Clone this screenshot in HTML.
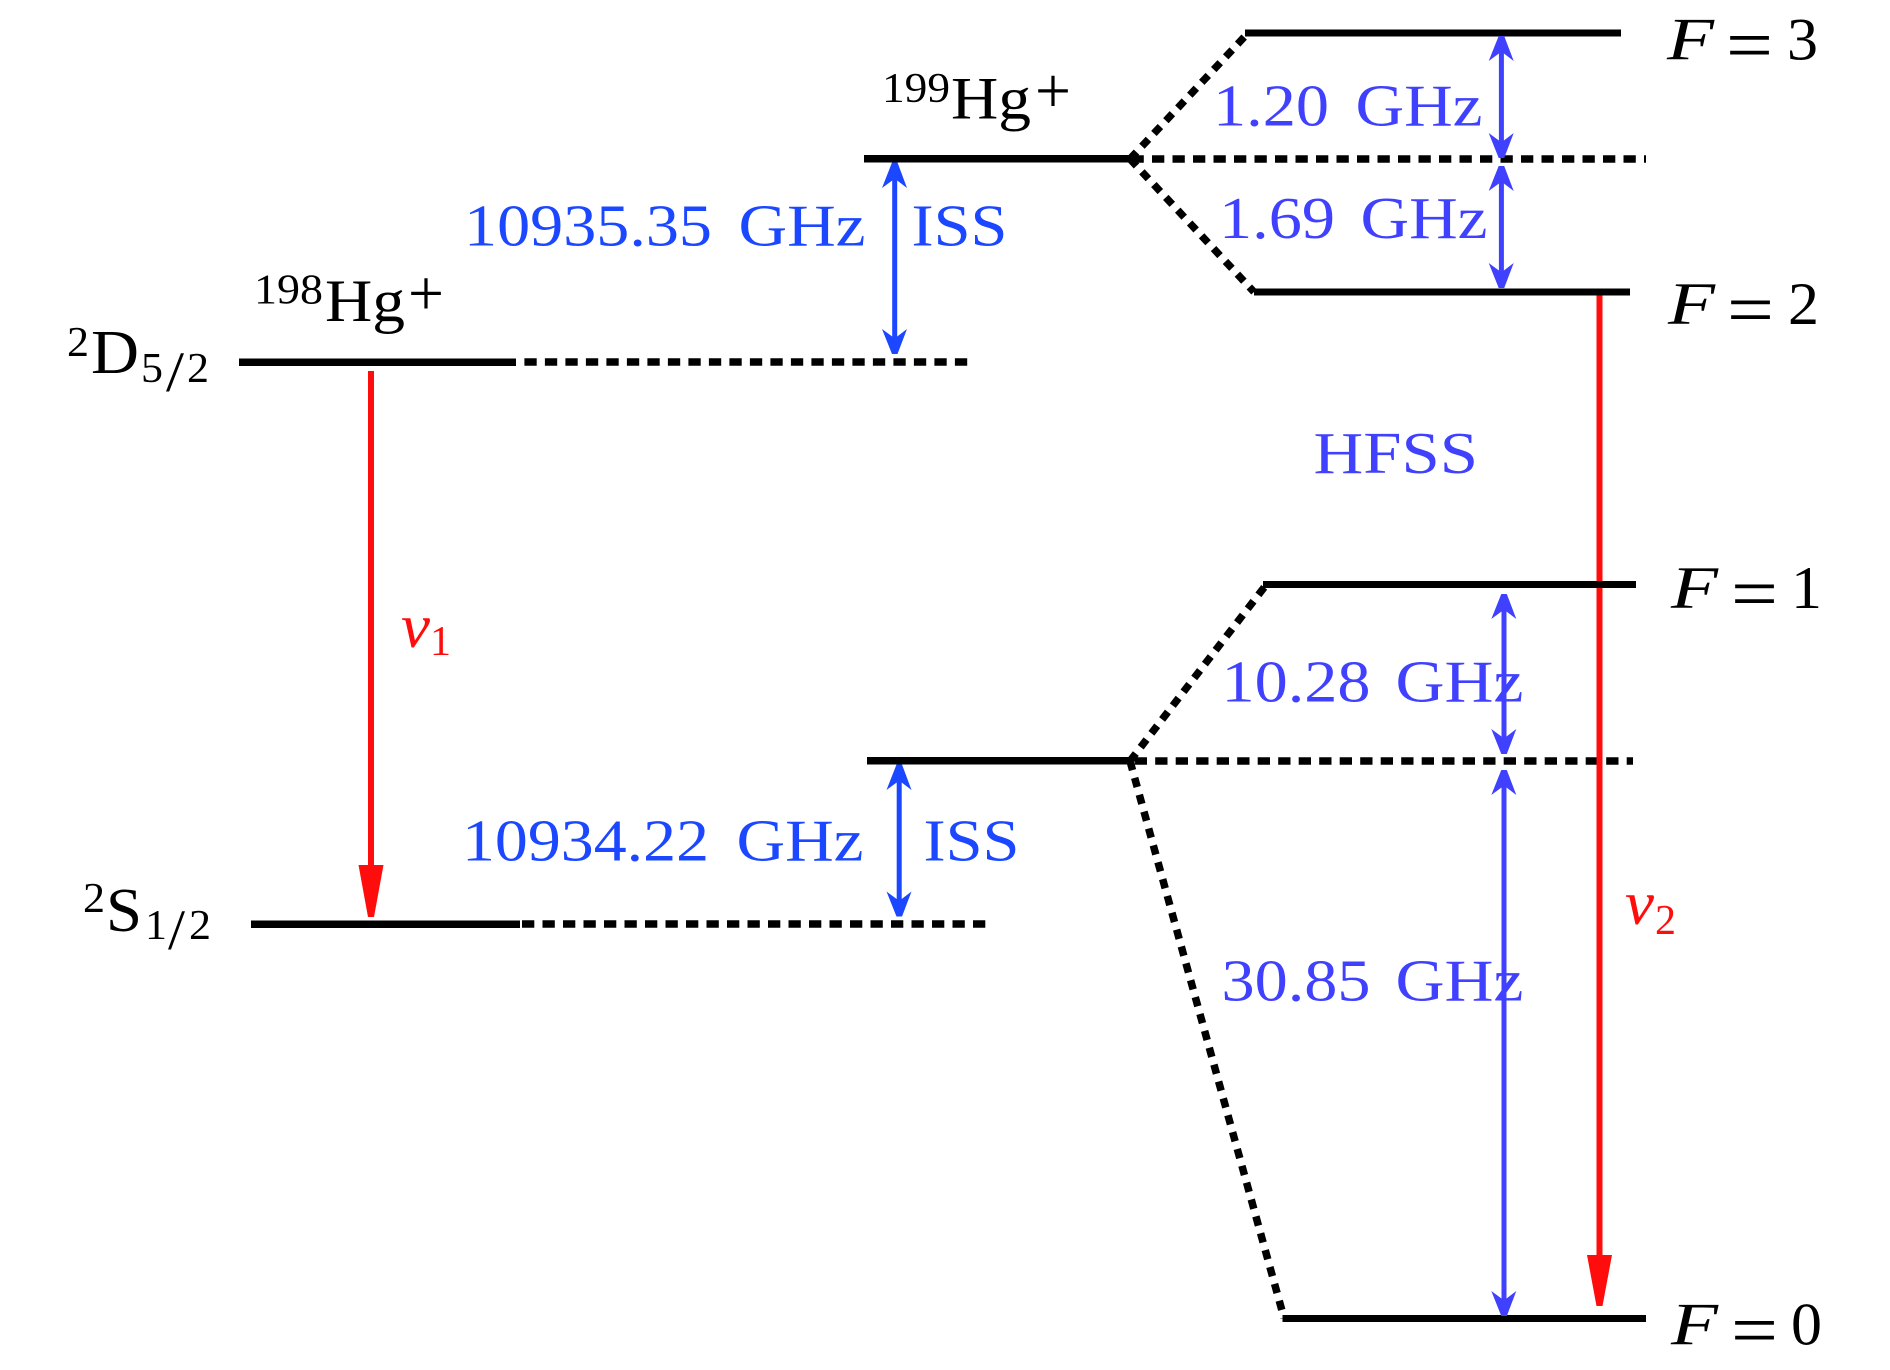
<!DOCTYPE html>
<html>
<head>
<meta charset="utf-8">
<style>
html,body{margin:0;padding:0;background:#fff;width:1890px;height:1370px;overflow:hidden}
svg{display:block}
text{font-family:"Liberation Serif","DejaVu Serif",serif}
.b1{fill:#1a47ff}.b2{fill:#4040ff}.r{fill:#ff0d0d}.k{fill:#000}
</style>
</head>
<body>
<svg width="1890" height="1370" viewBox="0 0 1890 1370" xmlns="http://www.w3.org/2000/svg">
<rect width="1890" height="1370" fill="#fff"/>

<!-- dashed levels -->
<g stroke="#000" stroke-width="7.500" fill="none" stroke-dasharray="12.300 8.200">
<line x1="524.400" y1="362" x2="968" y2="362"/>
<line x1="522" y1="924" x2="986" y2="924"/>
<line x1="1131.500" y1="159" x2="1646" y2="159"/>
<line x1="1134.700" y1="761" x2="1633" y2="761"/>
</g>
<!-- diagonals -->
<g stroke="#000" stroke-width="7.500" fill="none" stroke-dasharray="9.500 8">
<line x1="1130" y1="159" x2="1248" y2="33"/>
<line x1="1130" y1="159" x2="1254" y2="292"/>
<line x1="1130" y1="761" x2="1266" y2="585"/>
<line x1="1130" y1="761" x2="1284" y2="1318"/>
</g>

<!-- red arrows -->
<g fill="#ff0d0d">
<rect x="368" y="371" width="6" height="500"/>
<path d="M358.500 865 L383.500 865 L374 917 L368 917 Z"/>
<rect x="1596.500" y="294" width="6" height="967"/>
<path d="M1587 1255 L1612 1255 L1602.500 1306 L1596.500 1306 Z"/>
</g>

<!-- solid levels -->
<g fill="#000">
<rect x="239" y="358.500" width="277" height="7.500"/>
<rect x="251" y="920.500" width="269" height="7.500"/>
<rect x="864" y="155" width="267" height="7.500"/>
<rect x="867" y="757" width="265" height="7.500"/>
<rect x="1245" y="29.500" width="376" height="7"/>
<rect x="1254" y="288.500" width="376" height="7"/>
<rect x="1263" y="581" width="373" height="7"/>
<rect x="1282.500" y="1315" width="363.500" height="7"/>
</g>

<!-- blue double arrows, ISS -->
<g fill="#1a47ff">
<rect x="892.200" y="170" width="5" height="178"/>
<path d="M892 162.500 L897.500 162.500 L907 188 L897.200 180.500 L892.200 180.500 L882 188 Z"/>
<path d="M892 354 L897.500 354 L907 329 L897.200 336.500 L892.200 336.500 L882 329 Z"/>
<rect x="896.700" y="772" width="5" height="138"/>
<path d="M896.500 764.500 L902 764.500 L911.500 790 L901.700 782.500 L896.700 782.500 L886.500 790 Z"/>
<path d="M896.500 916.500 L902 916.500 L911.500 891.500 L901.700 899 L896.700 899 L886.500 891.500 Z"/>
</g>

<!-- blue double arrows, HFS -->
<g fill="#4040ff">
<rect x="1498.900" y="44" width="5" height="106"/>
<path d="M1498.700 36 L1504.200 36 L1513.700 61 L1503.900 53.500 L1498.900 53.500 L1488.700 61 Z"/>
<path d="M1498.700 158 L1504.200 158 L1513.700 133 L1503.900 140.500 L1498.900 140.500 L1488.700 133 Z"/>
<rect x="1498.900" y="174" width="5" height="106"/>
<path d="M1498.700 166 L1504.200 166 L1513.700 191 L1503.900 183.500 L1498.900 183.500 L1488.700 191 Z"/>
<path d="M1498.700 288 L1504.200 288 L1513.700 263 L1503.900 270.500 L1498.900 270.500 L1488.700 263 Z"/>
<rect x="1501.500" y="602" width="5" height="144"/>
<path d="M1501.300 594 L1506.800 594 L1516.300 619 L1506.500 611.500 L1501.500 611.500 L1491.300 619 Z"/>
<path d="M1501.300 754 L1506.800 754 L1516.300 729 L1506.500 736.500 L1501.500 736.500 L1491.300 729 Z"/>
<rect x="1501.500" y="778" width="5" height="530"/>
<path d="M1501.300 770 L1506.800 770 L1516.300 795 L1506.500 787.500 L1501.500 787.500 L1491.300 795 Z"/>
<path d="M1501.300 1316 L1506.800 1316 L1516.300 1291 L1506.500 1298.500 L1501.500 1298.500 L1491.300 1291 Z"/>
</g>

<!-- blue labels -->
<g font-size="59">
<text class="b1" x="464" y="245.500" textLength="248" lengthAdjust="spacingAndGlyphs">10935.35</text>
<text class="b1" x="738.500" y="245.500" textLength="127" lengthAdjust="spacingAndGlyphs">GHz</text>
<text class="b1" x="911.500" y="245.500" textLength="96" lengthAdjust="spacingAndGlyphs">ISS</text>
<text class="b1" x="462" y="860.500" textLength="247" lengthAdjust="spacingAndGlyphs">10934.22</text>
<text class="b1" x="736.500" y="860.500" textLength="127" lengthAdjust="spacingAndGlyphs">GHz</text>
<text class="b1" x="923.500" y="860.500" textLength="96" lengthAdjust="spacingAndGlyphs">ISS</text>
<text class="b2" x="1213" y="125.500" textLength="116" lengthAdjust="spacingAndGlyphs">1.20</text>
<text class="b2" x="1355.500" y="125.500" textLength="127" lengthAdjust="spacingAndGlyphs">GHz</text>
<text class="b2" x="1219" y="238" textLength="116" lengthAdjust="spacingAndGlyphs">1.69</text>
<text class="b2" x="1360.500" y="238" textLength="127" lengthAdjust="spacingAndGlyphs">GHz</text>
<text class="b2" x="1313.500" y="473" textLength="164.500" lengthAdjust="spacingAndGlyphs">HFSS</text>
<text class="b2" x="1221.500" y="701.500" textLength="149" lengthAdjust="spacingAndGlyphs">10.28</text>
<text class="b2" x="1395.500" y="701.500" textLength="128" lengthAdjust="spacingAndGlyphs">GHz</text>
<text class="b2" x="1221.500" y="1000.500" textLength="149" lengthAdjust="spacingAndGlyphs">30.85</text>
<text class="b2" x="1395.500" y="1000.500" textLength="128" lengthAdjust="spacingAndGlyphs">GHz</text>
</g>

<!-- nu labels -->
<text class="r" x="401" y="647" font-size="62" font-style="italic" textLength="29" lengthAdjust="spacingAndGlyphs">ν</text>
<text class="r" x="430" y="655" font-size="42" textLength="21" lengthAdjust="spacingAndGlyphs">1</text>
<text class="r" x="1625" y="924" font-size="62" font-style="italic" textLength="29" lengthAdjust="spacingAndGlyphs">ν</text>
<text class="r" x="1655" y="934" font-size="42" textLength="21" lengthAdjust="spacingAndGlyphs">2</text>

<!-- F labels -->
<g class="k">
<text x="1667" y="59.500" font-size="60" font-style="italic" textLength="47" lengthAdjust="spacingAndGlyphs">F</text>
<text x="1726" y="70" font-size="74" textLength="47" lengthAdjust="spacingAndGlyphs">=</text>
<text x="1787" y="59.500" font-size="60" textLength="31" lengthAdjust="spacingAndGlyphs">3</text>
<text x="1668" y="324" font-size="60" font-style="italic" textLength="47" lengthAdjust="spacingAndGlyphs">F</text>
<text x="1727" y="334.500" font-size="74" textLength="47" lengthAdjust="spacingAndGlyphs">=</text>
<text x="1788" y="324" font-size="60" textLength="31" lengthAdjust="spacingAndGlyphs">2</text>
<text x="1671" y="608" font-size="60" font-style="italic" textLength="47" lengthAdjust="spacingAndGlyphs">F</text>
<text x="1731" y="618.500" font-size="74" textLength="47" lengthAdjust="spacingAndGlyphs">=</text>
<text x="1791" y="608" font-size="60" textLength="31" lengthAdjust="spacingAndGlyphs">1</text>
<text x="1671" y="1344.500" font-size="60" font-style="italic" textLength="47" lengthAdjust="spacingAndGlyphs">F</text>
<text x="1731" y="1355" font-size="74" textLength="47" lengthAdjust="spacingAndGlyphs">=</text>
<text x="1791" y="1344.500" font-size="60" textLength="31" lengthAdjust="spacingAndGlyphs">0</text>
</g>

<!-- 198Hg+ -->
<g class="k">
<text x="254" y="303.500" font-size="42" textLength="69" lengthAdjust="spacingAndGlyphs">198</text>
<text x="325" y="321" font-size="60" textLength="80" lengthAdjust="spacingAndGlyphs">Hg</text>
<text x="408" y="315" font-size="65" textLength="36" lengthAdjust="spacingAndGlyphs">+</text>
</g>
<!-- 199Hg+ -->
<g class="k">
<text x="882" y="102" font-size="42" textLength="68" lengthAdjust="spacingAndGlyphs">199</text>
<text x="951" y="118.500" font-size="60" textLength="80" lengthAdjust="spacingAndGlyphs">Hg</text>
<text x="1035" y="112.500" font-size="65" textLength="36" lengthAdjust="spacingAndGlyphs">+</text>
</g>

<!-- term symbols -->
<g class="k">
<text x="67" y="356" font-size="42" textLength="22" lengthAdjust="spacingAndGlyphs">2</text>
<text x="91" y="373" font-size="62" textLength="48" lengthAdjust="spacingAndGlyphs">D</text>
<text x="141" y="382" font-size="42" textLength="22" lengthAdjust="spacingAndGlyphs">5</text>
<text x="166" y="391" font-size="57" textLength="18" lengthAdjust="spacingAndGlyphs">/</text>
<text x="187" y="382" font-size="42" textLength="22" lengthAdjust="spacingAndGlyphs">2</text>
<text x="83" y="912" font-size="42" textLength="22" lengthAdjust="spacingAndGlyphs">2</text>
<text x="106" y="931" font-size="62" textLength="36" lengthAdjust="spacingAndGlyphs">S</text>
<text x="145" y="939" font-size="42" textLength="22" lengthAdjust="spacingAndGlyphs">1</text>
<text x="168" y="949" font-size="57" textLength="17" lengthAdjust="spacingAndGlyphs">/</text>
<text x="189" y="939" font-size="42" textLength="22" lengthAdjust="spacingAndGlyphs">2</text>
</g>
</svg>
</body>
</html>
